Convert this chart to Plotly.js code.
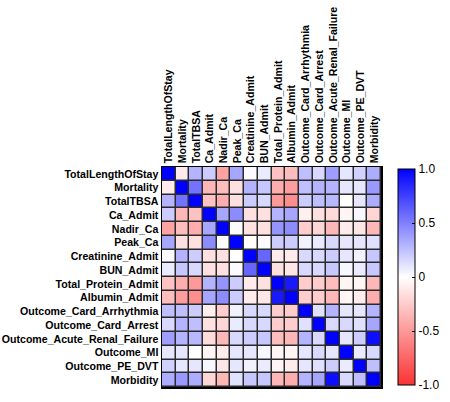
<!DOCTYPE html>
<html>
<head>
<meta charset="utf-8">
<script src="https://cdn.plot.ly/plotly-3.0.1.min.js"></script>
<style>html,body{margin:0;padding:0;background:#fff;}#chart{width:450px;height:402px;}</style>
</head>
<body>
<div id="chart"></div>
<script>
// Variable names, in matrix order
const variables = [
  "TotalLengthOfStay", "Mortality", "TotalTBSA", "Ca_Admit", "Nadir_Ca", "Peak_Ca",
  "Creatinine_Admit", "BUN_Admit", "Total_Protein_Admit", "Albumin_Admit",
  "Outcome_Card_Arrhythmia", "Outcome_Card_Arrest", "Outcome_Acute_Renal_Failure",
  "Outcome_MI", "Outcome_PE_DVT", "Morbidity"
];

// Pairwise correlation coefficients, one row per variable
const rowTotalLengthOfStay = [1.00, -0.10, 0.30, 0.20, -0.45, 0.35, 0.02, 0.08, -0.30, -0.32, 0.25, 0.15, 0.38, 0.10, 0.18, 0.32];
const rowMortality         = [-0.10, 1.00, 0.55, -0.35, -0.32, -0.15, 0.30, 0.22, -0.40, -0.48, 0.25, 0.30, 0.30, 0.10, 0.10, 0.40];
const rowTotalTBSA         = [0.30, 0.55, 1.00, -0.30, -0.40, -0.15, 0.20, 0.15, -0.50, -0.55, 0.20, 0.25, 0.28, 0.00, 0.10, 0.32];
const rowCaAdmit           = [0.20, -0.35, -0.30, 1.00, 0.35, 0.45, -0.15, -0.15, 0.30, 0.35, -0.08, -0.15, -0.18, -0.05, 0.03, -0.20];
const rowNadirCa           = [-0.45, -0.32, -0.40, 0.35, 1.00, 0.02, -0.15, -0.15, 0.42, 0.45, -0.25, -0.20, -0.35, -0.10, -0.12, -0.35];
const rowPeakCa            = [0.35, -0.15, -0.15, 0.45, 0.02, 1.00, 0.00, 0.02, 0.20, 0.20, 0.05, 0.08, 0.15, 0.10, 0.10, 0.12];
const rowCreatinineAdmit   = [0.02, 0.30, 0.20, -0.15, -0.15, 0.00, 1.00, 0.60, -0.10, -0.10, 0.15, 0.15, 0.20, 0.10, 0.05, 0.22];
const rowBUNAdmit          = [0.08, 0.22, 0.15, -0.15, -0.15, 0.02, 0.60, 1.00, -0.15, -0.12, 0.15, 0.15, 0.22, 0.03, 0.08, 0.22];
const rowTotalProtein      = [-0.30, -0.40, -0.50, 0.30, 0.42, 0.20, -0.10, -0.15, 1.00, 0.90, -0.25, -0.25, -0.32, -0.05, -0.05, -0.35];
const rowAlbuminAdmit      = [-0.32, -0.48, -0.55, 0.35, 0.45, 0.20, -0.10, -0.12, 0.90, 1.00, -0.25, -0.25, -0.35, -0.05, -0.10, -0.40];
const rowCardArrhythmia    = [0.25, 0.25, 0.20, -0.08, -0.25, 0.05, 0.15, 0.15, -0.25, -0.25, 1.00, 0.12, 0.30, 0.10, 0.10, 0.30];
const rowCardArrest        = [0.15, 0.30, 0.25, -0.15, -0.20, 0.08, 0.15, 0.15, -0.25, -0.25, 0.12, 1.00, 0.15, 0.15, 0.12, 0.35];
const rowAcuteRenalFailure = [0.38, 0.30, 0.28, -0.18, -0.35, 0.15, 0.20, 0.22, -0.32, -0.35, 0.30, 0.15, 1.00, 0.10, 0.20, 0.95];
const rowOutcomeMI         = [0.10, 0.10, 0.00, -0.05, -0.10, 0.10, 0.10, 0.03, -0.05, -0.05, 0.10, 0.15, 0.10, 1.00, 0.08, 0.15];
const rowOutcomePEDVT      = [0.18, 0.10, 0.10, 0.03, -0.12, 0.10, 0.05, 0.08, -0.05, -0.10, 0.10, 0.12, 0.20, 0.08, 1.00, 0.25];
const rowMorbidity         = [0.32, 0.40, 0.32, -0.20, -0.35, 0.12, 0.22, 0.22, -0.35, -0.40, 0.30, 0.35, 0.95, 0.15, 0.25, 1.00];

const corr = [
  rowTotalLengthOfStay, rowMortality, rowTotalTBSA, rowCaAdmit, rowNadirCa, rowPeakCa,
  rowCreatinineAdmit, rowBUNAdmit, rowTotalProtein, rowAlbuminAdmit, rowCardArrhythmia,
  rowCardArrest, rowAcuteRenalFailure, rowOutcomeMI, rowOutcomePEDVT, rowMorbidity
];

const colorbarTicks = [-1, -0.5, 0, 0.5, 1];
const colorbarTickText = ["-1.0", "-0.5", "0", "0.5", "1.0"];

const labelFont = {family: "Liberation Sans, Arial, sans-serif", size: 10.6, color: "#000", weight: "bold"};

const trace = {
  type: "heatmap",
  z: corr,
  x: variables,
  y: variables,
  zmin: -1,
  zmax: 1,
  xgap: 1.5,
  ygap: 1.5,
  colorscale: [[0, "rgb(250,50,50)"], [0.5, "rgb(255,255,255)"], [1, "rgb(0,0,255)"]],
  colorbar: {
    x: 1.078,
    xanchor: "left",
    y: 0.5,
    yanchor: "middle",
    len: 0.98,
    lenmode: "fraction",
    thickness: 17,
    thicknessmode: "pixels",
    outlinecolor: "#000",
    outlinewidth: 1,
    tickvals: colorbarTicks,
    ticktext: colorbarTickText,
    ticks: "inside",
    ticklen: 3,
    tickcolor: "#000",
    tickfont: {family: "Liberation Sans, Arial, sans-serif", size: 12, color: "#000"},
    xpad: 0,
    ypad: 0
  }
};

const layout = {
  width: 450,
  height: 402,
  margin: {l: 162, r: 69, t: 167, b: 15, autoexpand: false},
  paper_bgcolor: "#fff",
  plot_bgcolor: "#2a2a2a",
  xaxis: {
    side: "top",
    tickangle: -90,
    tickfont: labelFont,
    tickmode: "array",
    tickvals: variables,
    showgrid: false,
    zeroline: false,
    ticks: "",
    showline: true,
    linecolor: "#000",
    linewidth: 1.5,
    mirror: true,
    fixedrange: true
  },
  yaxis: {
    autorange: "reversed",
    tickfont: labelFont,
    tickmode: "array",
    tickvals: variables,
    showgrid: false,
    zeroline: false,
    ticks: "",
    showline: true,
    linecolor: "#000",
    linewidth: 1.5,
    mirror: true,
    fixedrange: true
  }
};

Plotly.newPlot("chart", [trace], layout, {displayModeBar: false, staticPlot: true});
</script>
</body>
</html>
